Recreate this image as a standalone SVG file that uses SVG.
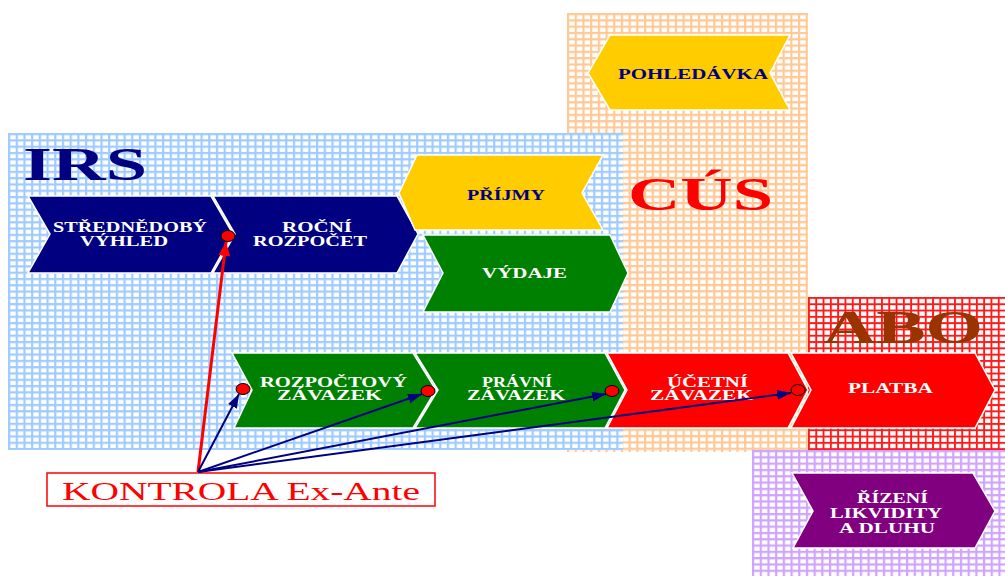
<svg xmlns="http://www.w3.org/2000/svg" width="1005" height="576" viewBox="0 0 1005 576">
<style>
.lbl{font-family:"Liberation Serif","Times New Roman",serif;font-weight:bold;font-size:14px;fill:#fff}
.lblN{font-family:"Liberation Serif","Times New Roman",serif;font-weight:bold;font-size:14px;fill:#000080}
.big{font-family:"Liberation Serif","Times New Roman",serif;font-weight:bold;font-size:46px}
.chev{stroke:#fff;stroke-width:1.5}
.dot{fill:#ff0000;stroke:#000;stroke-width:1}
.blue{stroke:#000080;stroke-width:2;fill:none;marker-end:url(#ahB)}
</style>
<defs>
<pattern id="gBlue" patternUnits="userSpaceOnUse" x="8" y="133" width="7.7" height="6.3">
<rect width="7.7" height="6.3" fill="#fff"/>
<rect x="0" y="0" width="2.2" height="6.3" fill="#9fcbff"/>
<rect x="0" y="0" width="7.7" height="2.2" fill="#9fcbff"/>
</pattern>
<pattern id="gOrange" patternUnits="userSpaceOnUse" x="567" y="13" width="7.7" height="6.3">
<rect width="7.7" height="6.3" fill="#fff"/>
<rect x="0" y="0" width="2.2" height="6.3" fill="#ffc894"/>
<rect x="0" y="0" width="7.7" height="2.2" fill="#ffc894"/>
</pattern>
<pattern id="gRed" patternUnits="userSpaceOnUse" x="808" y="297" width="7.3" height="6.3">
<rect width="7.3" height="6.3" fill="#fff"/>
<rect x="0" y="0" width="1.9" height="6.3" fill="#ff1a1a"/>
<rect x="0" y="0" width="7.3" height="1.9" fill="#ff1a1a"/>
</pattern>
<pattern id="gPurple" patternUnits="userSpaceOnUse" x="752" y="450" width="7.7" height="6.3">
<rect width="7.7" height="6.3" fill="#fff"/>
<rect x="0" y="0" width="2.2" height="6.3" fill="#cfa3ff"/>
<rect x="0" y="0" width="7.7" height="2.2" fill="#cfa3ff"/>
</pattern>
<marker id="ahB" markerUnits="userSpaceOnUse" markerWidth="16" markerHeight="12" refX="14" refY="5" orient="auto">
<path d="M0,0 L14,5 L0,10 z" fill="#000080"/>
</marker>
<marker id="ahR" markerUnits="userSpaceOnUse" markerWidth="16" markerHeight="14" refX="14" refY="6" orient="auto">
<path d="M0,0 L14,6 L0,12 z" fill="#ff0000"/>
</marker>
</defs>
<rect width="1005" height="576" fill="#fff"/>

<g id="regions">
<rect x="567" y="13" width="241" height="439" fill="url(#gOrange)"/>
<rect x="8" y="133" width="615" height="317" fill="url(#gBlue)"/>
<rect x="808" y="297" width="197" height="153" fill="url(#gRed)"/>
<rect x="752" y="450" width="253" height="126" fill="url(#gPurple)"/>
</g>

<g id="titles">
<text class="big" x="23" y="180" fill="#000080" textLength="124" lengthAdjust="spacingAndGlyphs">IRS</text>
<text class="big" x="628" y="210" fill="#ff0000" textLength="145" lengthAdjust="spacingAndGlyphs">CÚS</text>
<text class="big" x="823" y="343" fill="#993300" font-size="42" textLength="160" lengthAdjust="spacingAndGlyphs">ABO</text>
</g>

<g id="node-strednedoby">
<polygon class="chev" fill="#000080" points="28,196 211,196 233,234 211,273 28,273 50,234"/>
<text class="lbl" x="53" y="232" textLength="154" lengthAdjust="spacingAndGlyphs">STŘEDNĚDOBÝ</text>
<text class="lbl" x="80" y="246" textLength="88" lengthAdjust="spacingAndGlyphs">VÝHLED</text>
</g>
<g id="node-rocni">
<polygon class="chev" fill="#000080" points="213,196 397,196 418,234 397,273 213,273 235,234"/>
<text class="lbl" x="282" y="232" textLength="70" lengthAdjust="spacingAndGlyphs">ROČNÍ</text>
<text class="lbl" x="253" y="246" textLength="114" lengthAdjust="spacingAndGlyphs">ROZPOČET</text>
</g>
<g id="node-prijmy">
<polygon class="chev" fill="#ffcc00" points="417,155 603,155 582,193 603,230 415,230 399,193"/>
<text class="lblN" x="467" y="200" textLength="78" lengthAdjust="spacingAndGlyphs">PŘÍJMY</text>
</g>
<g id="node-vydaje">
<polygon class="chev" fill="#008000" points="423,235 610,235 628,273 610,312 423,312 443,273"/>
<text class="lbl" x="482" y="278" textLength="85" lengthAdjust="spacingAndGlyphs">VÝDAJE</text>
</g>
<g id="node-pohledavka">
<polygon class="chev" fill="#ffcc00" points="610,35 790,35 770,73 790,110 610,110 588,73"/>
<text class="lblN" x="618" y="79" textLength="150" lengthAdjust="spacingAndGlyphs">POHLEDÁVKA</text>
</g>
<g id="node-rozpoctovy">
<polygon class="chev" fill="#008000" points="232,353 413,353 436,390 413,428 234,428 252,390"/>
<text class="lbl" x="260" y="387" textLength="147" lengthAdjust="spacingAndGlyphs">ROZPOČTOVÝ</text>
<text class="lbl" x="277" y="400" textLength="105" lengthAdjust="spacingAndGlyphs">ZÁVAZEK</text>
</g>
<g id="node-pravni">
<polygon class="chev" fill="#008000" points="415,353 605,353 625,390 605,428 415,428 438,390"/>
<text class="lbl" x="482" y="387" textLength="70" lengthAdjust="spacingAndGlyphs">PRÁVNÍ</text>
<text class="lbl" x="467" y="400" textLength="98" lengthAdjust="spacingAndGlyphs">ZÁVAZEK</text>
</g>
<g id="node-ucetni">
<polygon class="chev" fill="#ff0000" points="607,353 788,353 808,390 788,428 607,428 627,390"/>
<text class="lbl" x="667" y="387" textLength="81" lengthAdjust="spacingAndGlyphs">ÚČETNÍ</text>
<text class="lbl" x="650" y="400" textLength="103" lengthAdjust="spacingAndGlyphs">ZÁVAZEK</text>
</g>
<g id="node-platba">
<polygon class="chev" fill="#ff0000" points="791,353 975,353 995,390 975,428 791,428 811,390"/>
<text class="lbl" x="848" y="393" textLength="85" lengthAdjust="spacingAndGlyphs">PLATBA</text>
</g>
<g id="node-rizeni">
<polygon class="chev" fill="#800080" points="792,473 973,473 995,511 975,548 793,548 813,511"/>
<text class="lbl" x="857" y="503" textLength="71" lengthAdjust="spacingAndGlyphs">ŘÍZENÍ</text>
<text class="lbl" x="830" y="518" textLength="112" lengthAdjust="spacingAndGlyphs">LIKVIDITY</text>
<text class="lbl" x="839" y="533" textLength="96" lengthAdjust="spacingAndGlyphs">A DLUHU</text>
</g>
<g id="node-kontrola">
<rect x="47" y="473" width="388" height="33" fill="#fff" stroke="#ff0000" stroke-width="1.5"/>
<text x="62" y="500" font-family="'Liberation Serif','Times New Roman',serif" font-size="25" fill="#ff0000" textLength="358" lengthAdjust="spacingAndGlyphs">KONTROLA Ex-Ante</text>
</g>

<g id="connectors">
<line x1="198" y1="472" x2="226" y2="242" stroke="#ff0000" stroke-width="3" marker-end="url(#ahR)"/>
<line class="blue" x1="198" y1="472" x2="239" y2="394"/>
<line class="blue" x1="198" y1="472" x2="422" y2="394"/>
<line class="blue" x1="198" y1="472" x2="606" y2="394"/>
<line class="blue" x1="198" y1="472" x2="791" y2="393"/>
<ellipse class="dot" cx="228" cy="236" rx="7" ry="5.5"/>
<ellipse class="dot" cx="243" cy="389" rx="7" ry="5.5"/>
<ellipse class="dot" cx="428" cy="391" rx="7" ry="5.5"/>
<ellipse class="dot" cx="612" cy="391" rx="7" ry="5.5"/>
<ellipse cx="798" cy="390" rx="7" ry="5.5" fill="none" stroke="#000" stroke-width="1"/>
</g>
</svg>
